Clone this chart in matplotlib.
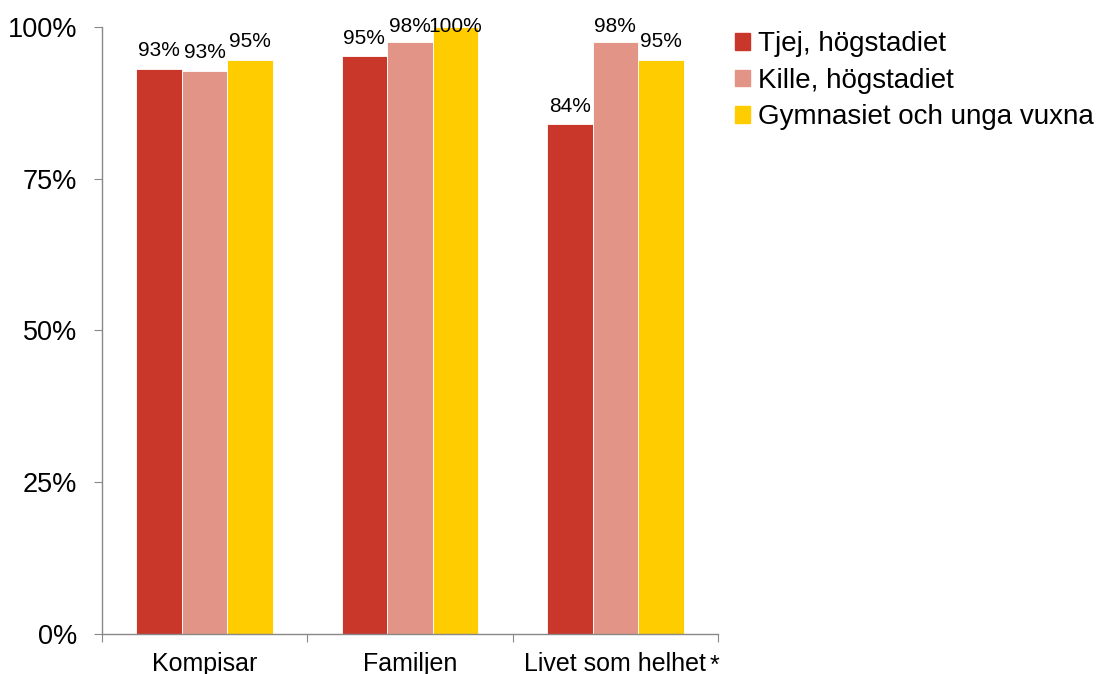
import numpy as np
import matplotlib.pyplot as plt
from matplotlib.patches import Patch

plt.rcParams['font.family'] = ['Liberation Sans', 'DejaVu Sans']

# data
categories = ['Kompisar', 'Familjen', 'Livet som helhet']
series = ['Tjej, högstadiet', 'Kille, högstadiet', 'Gymnasiet och unga vuxna']
tjej = [0.931, 0.952, 0.840]
kille = [0.928, 0.975, 0.975]
gymn = [0.946, 1.0, 0.946]
labels = [['93%', '95%', '84%'], ['93%', '98%', '98%'], ['95%', '100%', '95%']]
colors = ['#C9372A', '#E29486', '#FFCC00']

fig = plt.figure(figsize=(10.98, 6.74), dpi=100)
ax = fig.add_axes([0.0929, 0.0593, 0.561, 0.9007])

x = np.arange(len(categories))
w = 0.222
for i, vals in enumerate([tjej, kille, gymn]):
    pos = x + (i - 1) * w
    ax.bar(pos, vals, w, color=colors[i], edgecolor='white', linewidth=0.6)
    for p, v, t in zip(pos, vals, labels[i]):
        # labels are kept inside the plot area, like the original
        ax.text(p, min(v + 0.014, 0.985), t, ha='center', va='bottom', fontsize=15)

ax.set_xlim(-0.5, 2.5)
ax.set_ylim(0, 1)
ax.set_yticks([0, 0.25, 0.5, 0.75, 1.0])
ax.set_yticklabels(['0%', '25%', '50%', '75%', '100%'], fontsize=19.5)
ax.set_xticks([-0.5, 0.5, 1.5, 2.5])
ax.set_xticklabels([])
ax.set_xticks(x, minor=True)
ax.set_xticklabels(categories, minor=True, fontsize=18)
ax.tick_params(axis='x', which='minor', length=0, pad=13)
ax.tick_params(axis='x', which='major', length=6, color='#888888', direction='out')
ax.tick_params(axis='y', length=6, color='#888888', pad=12)
for s in ['top', 'right']:
    ax.spines[s].set_visible(False)
for s in ['left', 'bottom']:
    ax.spines[s].set_color('#888888')
    ax.spines[s].set_linewidth(1.0)

# asterisk after the last category
ax.annotate('*', xy=(2, 0), xycoords=('data', 'axes fraction'),
            xytext=(68, -23), textcoords='offset points', fontsize=18, ha='left', va='center',
            annotation_clip=False)

handles = [Patch(color=c) for c in colors]
fig.legend(handles, series, loc='upper left', bbox_to_anchor=(0.659, 0.970),
           frameon=False, fontsize=20, handlelength=0.55, handleheight=0.55,
           handletextpad=0.3, labelspacing=0.38, borderaxespad=0)

fig.savefig('out.png', dpi=100)
